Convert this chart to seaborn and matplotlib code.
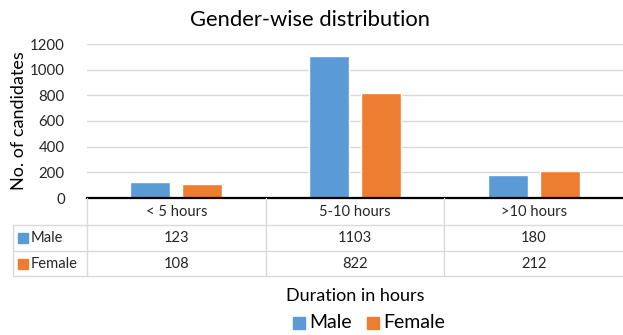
import matplotlib
matplotlib.use("Agg")
import matplotlib.pyplot as plt
import seaborn as sns
import pandas as pd
from matplotlib.lines import Line2D
from matplotlib.patches import Rectangle

categories = ["< 5 hours", "5-10 hours", ">10 hours"]
series_names = ["Male", "Female"]
male = [123, 1103, 180]
female = [108, 822, 212]
y_ticks = [0, 200, 400, 600, 800, 1000, 1200]
colors = ["#5B9BD5", "#ED7D31"]

sns.set_theme(style="white")
plt.rcParams["font.family"] = ["Lato", "DejaVu Sans"]

W, H = 623, 335
fig = plt.figure(figsize=(W / 100, H / 100), dpi=100)

def fx(px):
    return px / W

def fy(py):
    return 1 - py / H

ax_left, ax_right, ax_top, ax_bottom = 87, 623, 44, 198
ax = fig.add_axes([fx(ax_left), fy(ax_bottom), fx(ax_right - ax_left), fy(ax_top) - fy(ax_bottom)])

df = pd.DataFrame({
    "Duration": categories * 2,
    "Gender": ["Male"] * 3 + ["Female"] * 3,
    "Count": male + female,
})
sns.barplot(data=df, x="Duration", y="Count", hue="Gender", order=categories,
            hue_order=series_names, palette=colors, width=0.58, gap=0.23,
            saturation=1, legend=False, ax=ax)

ax.set_xlim(-0.5, 2.5)
ax.set_ylim(0, 1200)
ax.set_yticks(y_ticks)
ax.set_yticklabels([str(v) for v in y_ticks], fontsize=10.8, color="#262626")
ax.set_xticks([])
ax.set_xlabel("")
ax.set_ylabel("")
ax.yaxis.grid(True, color="#d9d9d9", linewidth=1)
ax.set_axisbelow(True)
for side in ["left", "right", "top"]:
    ax.spines[side].set_visible(False)
ax.spines["bottom"].set_color("black")
ax.spines["bottom"].set_linewidth(1.6)
ax.tick_params(axis="y", length=0, pad=16)

# data table under the plot
grid_c = "#d9d9d9"
row_lines = [225, 251, 276]
col_edges = [ax_left + i * (ax_right - ax_left) / 3 for i in range(4)]
tbl_left = 13
for y in row_lines:
    fig.add_artist(Line2D([fx(tbl_left), fx(ax_right)], [fy(y), fy(y)], color=grid_c, lw=1))
for x in col_edges[:-1]:
    fig.add_artist(Line2D([fx(x), fx(x)], [fy(ax_bottom), fy(row_lines[-1])], color=grid_c, lw=1))
fig.add_artist(Line2D([fx(tbl_left), fx(tbl_left)], [fy(row_lines[0]), fy(row_lines[-1])], color=grid_c, lw=1))

text_c = "#262626"
header_y, row_y = 212, [238, 264]
for i, cat in enumerate(categories):
    cx = (col_edges[i] + col_edges[i + 1]) / 2
    fig.text(fx(cx), fy(header_y), cat, ha="center", va="center", fontsize=10.6, color=text_c)
    for r, vals in enumerate([male, female]):
        fig.text(fx(cx), fy(row_y[r]), str(vals[i]), ha="center", va="center", fontsize=10.6, color=text_c)
for r, name in enumerate(series_names):
    fig.add_artist(Rectangle((fx(18), fy(row_y[r] + 5)), fx(10), fy(row_y[r] - 5) - fy(row_y[r] + 5),
                             color=colors[r], transform=fig.transFigure))
    fig.text(fx(31), fy(row_y[r]), name, ha="left", va="center", fontsize=10.6, color=text_c)

fig.text(fx(310), fy(20), "Gender-wise distribution", ha="center", va="center", fontsize=15.8, color="black")
fig.text(fx(19), fy(121), "No. of candidates", ha="center", va="center", rotation=90, fontsize=13, color="black")
fig.text(fx(355), fy(296), "Duration in hours", ha="center", va="center", fontsize=13, color="black")

# legend
leg_y = 323
for x0, name, c in [(293, "Male", colors[0]), (367, "Female", colors[1])]:
    fig.add_artist(Rectangle((fx(x0), fy(leg_y + 6)), fx(12), fy(leg_y - 6) - fy(leg_y + 6),
                             color=c, transform=fig.transFigure))
    fig.text(fx(x0 + 16), fy(leg_y), name, ha="left", va="center", fontsize=14, color="black")

fig.savefig("out.png", dpi=100, facecolor="white")
